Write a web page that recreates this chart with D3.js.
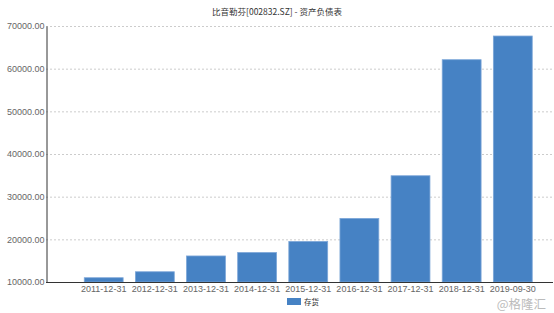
<!DOCTYPE html>
<html lang="zh">
<head>
<meta charset="UTF-8" />
<script src="https://d3js.org/d3.v7.min.js"></script>
<style>
  body { margin: 0; background: #fff; }
  svg { display: block; font-family: "Noto Sans CJK SC", "DejaVu Sans", sans-serif; }
  .tick text { fill: #666; font-size: 9px; }
  .grid line { stroke: #ccc; stroke-dasharray: 2,2; }
</style>
</head>
<body>
<svg width="554" height="313"></svg>
<script>
const categories = ["2011-12-31","2012-12-31","2013-12-31","2014-12-31","2015-12-31","2016-12-31","2017-12-31","2018-12-31","2019-09-30"];
const inventory = [11000, 12400, 16100, 16900, 19500, 24900, 34900, 62100, 67650];
const yTicks = [10000, 20000, 30000, 40000, 50000, 60000, 70000];
const title = "比音勒芬[002832.SZ] - 资产负债表";
const seriesName = "存货";

const svg = d3.select("svg");
const mLeft = 46, mRight = 554, mTop = 26, mBottom = 282;

const y = d3.scaleLinear().domain([10000, 70000]).range([mBottom, mTop]);
const x = d3.scaleBand().domain(categories).range([72, 544.5]).padding(0.24);

// 网格线
svg.append("g").attr("class", "grid")
  .selectAll("line").data(yTicks.slice(1)).join("line")
  .attr("x1", mLeft).attr("x2", mRight)
  .attr("y1", d => y(d) + 0.5).attr("y2", d => y(d) + 0.5);

// 柱子
svg.append("g").selectAll("rect").data(inventory).join("rect")
  .attr("x", (d, i) => x(categories[i]))
  .attr("width", x.bandwidth())
  .attr("y", d => y(d))
  .attr("height", d => mBottom - y(d))
  .attr("fill", "#4682c4")
  .attr("stroke", "#7ca6d8")
  .attr("stroke-width", 0.8);

// y 轴
const yAxis = svg.append("g").attr("transform", `translate(${mLeft + 0.5},0)`)
  .call(d3.axisLeft(y).tickValues(yTicks).tickFormat(d => d.toFixed(2)).tickSize(0).tickPadding(2));
yAxis.select(".domain").attr("stroke", "#333");

// x 轴
const xAxis = svg.append("g").attr("transform", `translate(0,${mBottom + 0.5})`)
  .call(d3.axisBottom(x).tickSize(0).tickPadding(3));
xAxis.select(".domain").remove();
svg.append("line").attr("x1", mLeft).attr("x2", mRight - 1)
  .attr("y1", mBottom + 0.5).attr("y2", mBottom + 0.5).attr("stroke", "#333");

// 标题
svg.append("text").attr("x", 277).attr("y", 15).attr("text-anchor", "middle")
  .attr("font-size", 8.5).attr("fill", "#333").text(title);

// 图例
svg.append("rect").attr("x", 287).attr("y", 298).attr("width", 14).attr("height", 7).attr("fill", "#4682c4");
svg.append("text").attr("x", 304).attr("y", 305).attr("font-size", 7.5).attr("fill", "#333").text(seriesName);

// 水印
svg.append("text").attr("x", 546).attr("y", 309).attr("text-anchor", "end")
  .attr("font-size", 12.5).attr("fill", "#bbb").text("@格隆汇");
</script>
</body>
</html>
